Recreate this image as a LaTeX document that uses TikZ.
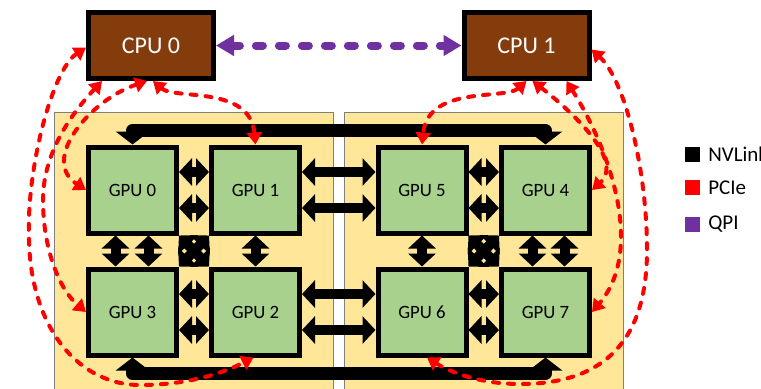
\documentclass[tikz,border=0pt]{standalone}
\usepackage{fontspec}
\setmainfont{Carlito}
\usetikzlibrary{calc, arrows.meta, positioning}

\definecolor{cpubrown}{HTML}{843C0C}
\definecolor{gpugreen}{HTML}{A9D18E}
\definecolor{trayyellow}{HTML}{FFE699}
\definecolor{qpipurple}{HTML}{7030A0}
\definecolor{traygray}{HTML}{7F7F7F}

\begin{document}
\begin{tikzpicture}[x=0.5pt, y=-0.5pt, >=Stealth,
    cpu/.style={draw=black, line width=2.5pt, fill=cpubrown, text=white,
        font=\fontsize{12}{14}\selectfont, minimum width=62.5pt, minimum height=33pt},
    gpu/.style={draw=black, line width=2.5pt, fill=gpugreen,
        font=\fontsize{9.4}{11}\selectfont, minimum width=44pt, minimum height=43pt},
    nvlink/.style={line width=5pt,
        {Triangle[width=13.5pt,length=6.5pt]}-{Triangle[width=13.5pt,length=6.5pt]}},
    nvbar/.style={line width=6.5pt, line join=round,
        {Triangle[width=16.5pt,length=6.5pt]}-{Triangle[width=16.5pt,length=6.5pt]}},
    pcie/.style={red, line width=2pt, line cap=round, dash pattern=on 3pt off 4.5pt,
        {Triangle[width=7.5pt,length=6pt]}-{Triangle[width=7.5pt,length=6pt]}},
    qpi/.style={qpipurple, line width=4pt, line cap=round, dash pattern=on 3.5pt off 8pt,
        {Triangle[width=10pt,length=9pt]}-{Triangle[width=10pt,length=9pt]}},
    legendbox/.style={minimum size=7.5pt, inner sep=0pt},
    legendtext/.style={inner sep=0pt, font=\fontsize{10.5}{12}\selectfont}
]

    % ==========================================
    % 1. FRAME AND BOARD TRAYS
    % ==========================================
    \clip (0,0) rectangle (761,388);
    \fill[trayyellow, draw=traygray, line width=0.5pt] (54,112) rectangle (333,400);
    \fill[trayyellow, draw=traygray, line width=0.5pt] (344,112) rectangle (623,400);

    % ==========================================
    % 2. CPUS AND GPUS
    % ==========================================
    \node[cpu] (c0) at (151,45.5) {CPU 0};
    \node[cpu] (c1) at (526.5,45.5) {CPU 1};

    \node[gpu] (g0) at (132.5,190) {GPU 0};
    \node[gpu] (g1) at (255.5,190) {GPU 1};
    \node[gpu] (g3) at (132.5,312) {GPU 3};
    \node[gpu] (g2) at (255.5,312) {GPU 2};
    \node[gpu] (g5) at (422,190) {GPU 5};
    \node[gpu] (g4) at (545.5,190) {GPU 4};
    \node[gpu] (g6) at (422,312) {GPU 6};
    \node[gpu] (g7) at (545.5,312) {GPU 7};

    % ==========================================
    % 3. NVLINK CONNECTIONS
    % ==========================================
    % Horizontal pairs
    \foreach \dy in {-18,18} {
        \draw[nvlink] ($(g0.east)+(0,\dy)$) -- ($(g1.west)+(0,\dy)$);
        \draw[nvlink] ($(g1.east)+(0,\dy)$) -- ($(g5.west)+(0,\dy)$);
        \draw[nvlink] ($(g5.east)+(0,\dy)$) -- ($(g4.west)+(0,\dy)$);
        \draw[nvlink] ($(g3.east)+(0,\dy)$) -- ($(g2.west)+(0,\dy)$);
        \draw[nvlink] ($(g2.east)+(0,\dy)$) -- ($(g6.west)+(0,\dy)$);
        \draw[nvlink] ($(g6.east)+(0,\dy)$) -- ($(g7.west)+(0,\dy)$);
    }

    % Vertical links
    \draw[nvlink] ($(g0.south)+(-17,0)$) -- ($(g3.north)+(-17,0)$);
    \draw[nvlink] ($(g0.south)+(16,0)$) -- ($(g3.north)+(16,0)$);
    \draw[nvlink] (g1.south) -- (g2.north);
    \draw[nvlink] (g5.south) -- (g6.north);
    \draw[nvlink] ($(g4.south)+(-13,0)$) -- ($(g7.north)+(-13,0)$);
    \draw[nvlink] ($(g4.south)+(19,0)$) -- ($(g7.north)+(19,0)$);

    % Diagonal crossings
    \draw[nvlink] (g0.south east) -- (g2.north west);
    \draw[nvlink] (g1.south west) -- (g3.north east);
    \draw[nvlink] (g5.south east) -- (g7.north west);
    \draw[nvlink] (g4.south west) -- (g6.north east);

    % Long links across the trays
    \draw[nvbar] (g0.north) -- ++(0,-14) -| (g4.north);
    \draw[nvbar] (g3.south) -- ++(0,16) -| (g7.south);

    % ==========================================
    % 4. QPI AND PCIE LINKS
    % ==========================================
    \draw[qpi] (c0.east) -- (c1.west);

    % CPU 0 side
    \draw[pcie] ($(c0.west)+(0,2)$) .. controls (52,70) and (26,170) .. (29,240)
        .. controls (31,330) and (80,385) .. (140,385)
        .. controls (190,385) and (225,372) .. ($(g2.south)+(-2,0)$);
    \draw[pcie] ($(c0.south west)+(16,0)$) .. controls (75,110) and (43,150) .. (43,200)
        .. controls (43,250) and (60,290) .. (g3.west);
    \draw[pcie] ($(c0.south)+(-4,0)$) .. controls (90,100) and (40,160) .. (g0.west);
    \draw[pcie] ($(c0.south)+(2,0)$) .. controls (175,100) and (250,85) .. (g1.north);

    % CPU 1 side
    \draw[pcie] (c1.south) .. controls (505,100) and (428,85) .. (g5.north);
    \draw[pcie] ($(c1.south)+(6,0)$) .. controls (570,110) and (625,160) .. (g4.east);
    \draw[pcie] ($(c1.south east)+(-25,0)$) .. controls (610,150) and (645,250) .. (g7.east);
    \draw[pcie] ($(c1.east)+(0,4)$) .. controls (625,80) and (647,170) .. (647,250)
        .. controls (647,340) and (605,384) .. (520,384)
        .. controls (480,384) and (450,372) .. ($(g6.south)+(5,0)$);

    % ==========================================
    % 5. LEGEND
    % ==========================================
    \node[legendbox, fill=black] (lgnv) at (692,154.5) {};
    \node[legendtext, right=4pt of lgnv] (lgnvtxt) {NVLink};
    \node[legendbox, fill=red] (lgpc) at (692,187.5) {};
    \node[legendtext, right=4pt of lgpc] (lgpctxt) {PCIe};
    \node[legendbox, fill=qpipurple] (lgqp) at (692,224.5) {};
    \node[legendtext, right=4pt of lgqp] (lgqptxt) {QPI};

\end{tikzpicture}
\end{document}
